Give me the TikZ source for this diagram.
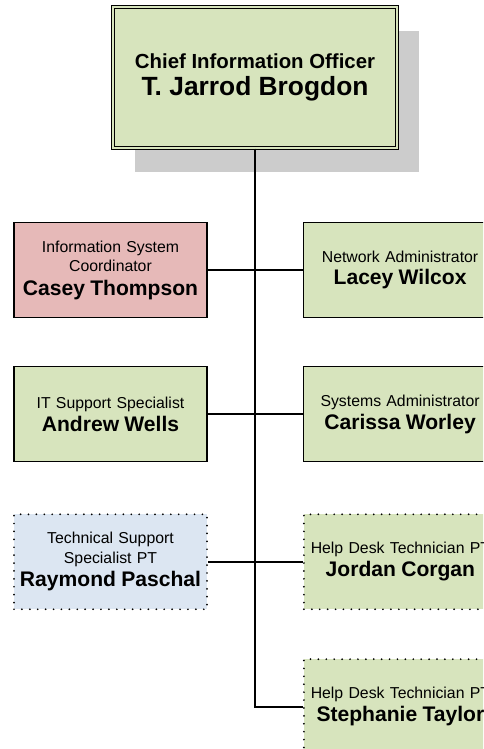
\documentclass[tikz,border=0pt]{standalone}
\usepackage{fontspec}
\setmainfont{Liberation Sans}
\usepackage{tikz}
\usetikzlibrary{positioning,shadows}
\definecolor{boxGreen}{RGB}{215,228,189}
\definecolor{boxPink}{RGB}{230,185,184}
\definecolor{boxBlue}{RGB}{220,230,242}
\definecolor{shadowGray}{RGB}{204,204,204}
\tikzstyle{link} = [line width=1.1pt]
\tikzstyle{stdBox} = [shape = rectangle, draw, line width=0.9pt, inner sep=2pt, minimum width=3.86cm, minimum height=1.9cm, text width=3.72cm, align=center, font=\fontsize{9}{11}\selectfont]
\tikzstyle{staffBox} = [stdBox, fill = boxGreen]
\tikzstyle{coordBox} = [stdBox, fill = boxPink]
\tikzstyle{ptBox} = [stdBox, draw, line width=1.1pt, line cap=round, dash pattern=on 0pt off 4.5pt]
\tikzstyle{chiefBox} = [shape = rectangle, draw, fill = boxGreen, line width=0.8pt, double = boxGreen, double distance=1.1pt, minimum width=5.68cm, minimum height=2.82cm, align=center, drop shadow={shadow xshift=0.44cm, shadow yshift=-0.48cm, fill=shadowGray, opacity=1}]

\begin{document}
\begin{tikzpicture}[x=0.02cm, y=-0.02cm]
			\useasboundingbox (0,0) rectangle (483,749);
			\clip (0,0) rectangle (483,749);
			\node (cio) at (255,77.5) [chiefBox] {
				{\fontsize{11.6}{14}\selectfont\bfseries Chief Information Officer}\\[3pt]
				{\fontsize{15}{18}\selectfont\bfseries T. Jarrod Brogdon}
			};
			\node (casey) at (110.5,270) [coordBox] {
				Information System\\Coordinator\\[2.5pt]
				{\fontsize{12}{14}\selectfont\bfseries Casey Thompson}
			};
			\node (lacey) [staffBox, right = 1.9cm of casey] {
				Network Administrator\\[2pt]
				{\fontsize{12}{14}\selectfont\bfseries Lacey Wilcox}
			};
			\node (andrew) [staffBox, below = 0.95cm of casey] {
				IT Support Specialist\\[2pt]
				{\fontsize{12}{14}\selectfont\bfseries Andrew Wells}
			};
			\node (carissa) [staffBox, right = 1.9cm of andrew] {
				Systems Administrator\\[2pt]
				{\fontsize{12}{14}\selectfont\bfseries Carissa Worley}
			};
			\node (raymond) [ptBox, fill = boxBlue, below = 1.02cm of andrew] {
				Technical Support\\Specialist PT\\[2.5pt]
				{\fontsize{12}{14}\selectfont\bfseries Raymond Paschal}
			};
			\node (jordan) [ptBox, fill = boxGreen, right = 1.9cm of raymond] {
				Help Desk Technician PT\\[2pt]
				{\fontsize{12}{14}\selectfont\bfseries Jordan Corgan}
			};
			\node (stephanie) [ptBox, fill = boxGreen, below = 0.96cm of jordan] {
				Help Desk Technician PT\\[2pt]
				{\fontsize{12}{14}\selectfont\bfseries Stephanie Taylor}
			};
			\draw[link] (cio.south) -- (cio.south |- stephanie.west) -- (stephanie.west);
			\draw[link] (casey.east) -- (lacey.west);
			\draw[link] (andrew.east) -- (carissa.west);
			\draw[link] (raymond.east) -- (jordan.west);
\end{tikzpicture}
\end{document}
